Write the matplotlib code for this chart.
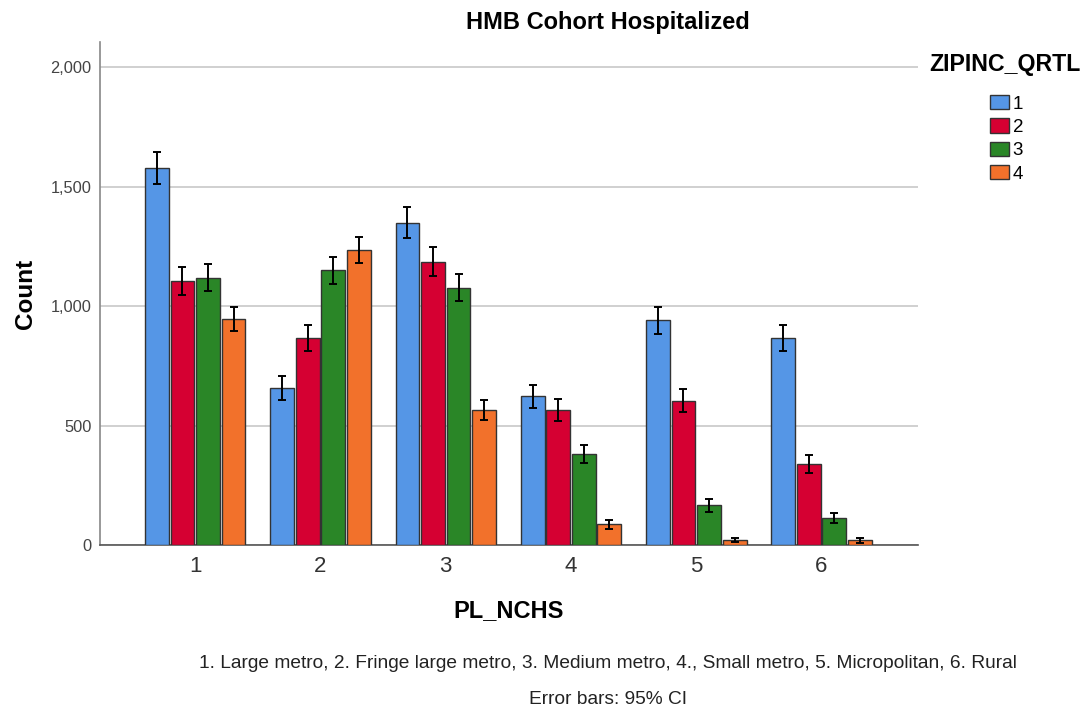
import numpy as np
import matplotlib
matplotlib.use("Agg")
import matplotlib.pyplot as plt
from matplotlib.ticker import FuncFormatter

plt.rcParams['font.family'] = ['Liberation Sans', 'DejaVu Sans']

# PL_NCHS categories and ZIPINC_QRTL groups
categories = ["1", "2", "3", "4", "5", "6"]
quartiles = ["1", "2", "3", "4"]

# counts, one list per quartile
q1 = [1577, 657, 1349, 622, 940, 866]
q2 = [1105, 866, 1186, 565, 604, 340]
q3 = [1119, 1150, 1077, 382, 166, 114]
q4 = [945, 1236, 565, 86, 20, 19]

# half widths of the 95% CI error bars
e1 = [66, 49, 65, 48, 56, 54]
e2 = [58, 54, 60, 46, 47, 38]
e3 = [57, 56, 56, 38, 27, 22]
e4 = [50, 54, 42, 19, 9, 9]

colors = ["#5596E6", "#D50032", "#2A8627", "#F2712B"]

fig = plt.figure(figsize=(10.86, 7.11), dpi=100)
ax = fig.add_axes([100 / 1086, 1 - 545 / 711, 818 / 1086, 503 / 711])

x = np.arange(1, len(categories) + 1)
width = 0.19
step = 0.204
series = [q1, q2, q3, q4]
errs = [e1, e2, e3, e4]
for i, (vals, err) in enumerate(zip(series, errs)):
    pos = x + (i - 1.5) * step
    ax.bar(pos, vals, width, color=colors[i], edgecolor="#333333", linewidth=1.0,
           label=quartiles[i], zorder=3)
    ax.errorbar(pos, vals, yerr=err, fmt="none", ecolor="black", elinewidth=1.4,
                capsize=3, capthick=1.4, zorder=4)

ax.set_xlim(0.24, 6.77)
ax.set_ylim(0, 2105)
ax.set_yticks([0, 500, 1000, 1500, 2000])
ax.yaxis.set_major_formatter(FuncFormatter(lambda v, p: f"{int(v):,}"))
ax.set_xticks(x)
ax.set_xticklabels(categories)
ax.grid(axis="y", color="#C8C8C8", linewidth=1.2, zorder=0)
ax.tick_params(axis="y", length=0, labelsize=11.8, labelcolor="#444444", pad=6)
ax.tick_params(axis="x", length=0, labelsize=16, labelcolor="#333333", pad=8)

for s in ["top", "right"]:
    ax.spines[s].set_visible(False)
ax.spines["left"].set_color("#888888")
ax.spines["left"].set_linewidth(1.2)
ax.spines["bottom"].set_color("#555555")
ax.spines["bottom"].set_linewidth(1.2)

ax.set_ylabel("Count", fontsize=17.5, fontweight="bold", labelpad=10)
ax.set_xlabel("PL_NCHS", fontsize=17, fontweight="bold", labelpad=16)

fig.text(608 / 1086, 1 - 23 / 711, "HMB Cohort Hospitalized", ha="center", va="center",
         fontsize=17, fontweight="bold")

# legend title drawn on its own so the gap to the swatches matches
fig.text(1005 / 1086, 1 - 65 / 711, "ZIPINC_QRTL", ha="center", va="center",
         fontsize=16.7, fontweight="bold")
leg = fig.legend(loc="upper left", bbox_to_anchor=(977 / 1086, 1 - 82 / 711),
                 frameon=False, fontsize=13.5, handlelength=1.0, handleheight=0.8,
                 labelspacing=0.3, handletextpad=0.2, borderpad=0.2)

fig.text(608 / 1086, 1 - 663 / 711,
         "1. Large metro, 2. Fringe large metro, 3. Medium metro, 4., Small metro, 5. Micropolitan, 6. Rural",
         ha="center", va="center", fontsize=13.8, color="#222222")
fig.text(608 / 1086, 1 - 699 / 711, "Error bars: 95% CI", ha="center", va="center",
         fontsize=13.8, color="#222222")

fig.savefig("out.png", dpi=100)
